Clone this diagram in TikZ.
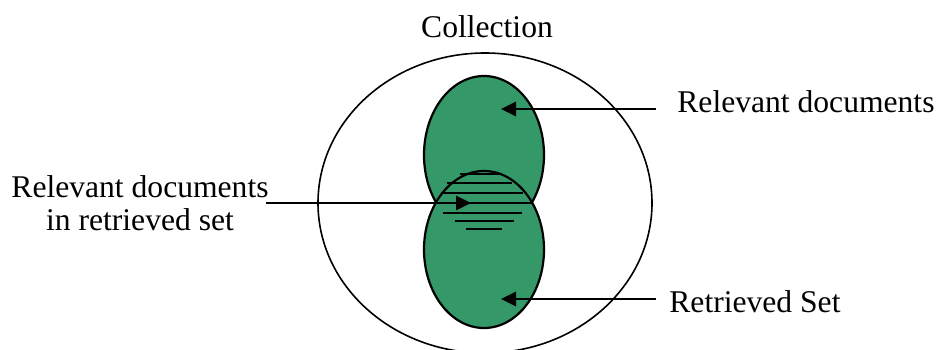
\documentclass[tikz,border=0pt]{standalone}
\usepackage{fontspec}
\setmainfont{Liberation Serif}
\usetikzlibrary{arrows.meta,shapes.geometric}
\definecolor{setgreen}{RGB}{52,152,104}
\begin{document}
\begin{tikzpicture}[x=0.5pt,y=-0.5pt,
  lbl/.style={inner sep=0pt,font=\fontsize{15.8}{16.5}\selectfont},
  setell/.style={ellipse,draw=black,line width=1.1pt,fill=setgreen,inner sep=0pt,minimum width=60pt,minimum height=79pt},
  ptr/.style={line width=1.4pt,-{Triangle[length=7.5pt,width=7pt]}},
  hatch/.style={line width=1.2pt}]
\path[use as bounding box] (0,0) rectangle (939,349);
% collection
\node[ellipse,draw=black,line width=0.8pt,inner sep=0pt,minimum width=167pt,minimum height=150pt] (coll) at (485,203) {};
\node[lbl,anchor=base] (colllbl) at (487,37) {Collection};
% sets
\node[setell] (rel) at (484,155) {};
\node[setell,minimum height=78.5pt] (ret) at (484,249.5) {};
% hatching of intersection
\draw[hatch] (460,174) -- (500,174);
\draw[hatch] (447,183) -- (512,183);
\draw[hatch] (441,193) -- (523,193);
\draw[hatch] (434,203) -- (533,203);
\draw[hatch] (443,213) -- (522,213);
\draw[hatch] (455,221) -- (514,221);
\draw[hatch] (466,229) -- (502,229);
% labels
\node[lbl,anchor=base west] (rellbl) at (677,112) {Relevant documents};
\node[lbl,anchor=base west] (retlbl) at (669,312) {Retrieved Set};
\node[lbl,align=center] (isectlbl) at (140,203) {Relevant documents\\in retrieved set};
% arrow end points
\coordinate (relstart) at (656,109);
\coordinate (reltip) at (501,109);
\coordinate (retstart) at (656,299);
\coordinate (rettip) at (501,299);
\coordinate (isstart) at (266,203);
\coordinate (istip) at (471,203);
\draw[ptr] (relstart) -- (reltip);
\draw[ptr] (retstart) -- (rettip);
\draw[ptr] (isstart) -- (istip);
\end{tikzpicture}
\end{document}
